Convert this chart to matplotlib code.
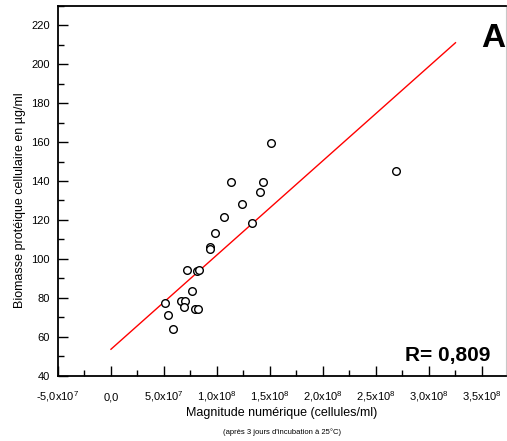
import matplotlib.pyplot as plt
from matplotlib.ticker import MultipleLocator

plt.rcParams['font.family'] = ['Liberation Sans', 'DejaVu Sans']
plt.rcParams['mathtext.default'] = 'regular'

# cell counts (cells/ml) and protein biomass (ug/ml)
cells = [5.15e7, 5.36e7, 5.90e7, 7.20e7, 8.15e7, 8.27e7, 7.68e7, 6.66e7,
         7.01e7, 6.85e7, 7.89e7, 8.24e7, 9.36e7, 9.36e7, 9.79e7, 1.071e8,
         1.133e8, 1.238e8, 1.330e8, 1.405e8, 1.437e8, 1.513e8, 2.688e8]
biomass = [77.2, 71.2, 64.1, 94.2, 93.8, 94.3, 83.2, 78.4,
           78.4, 75.3, 74.1, 74.1, 106.2, 104.9, 113.2, 121.3,
           139.3, 128.3, 118.4, 134.3, 139.3, 159.4, 145.3]

# linear fit
fit_intercept = 53.5
fit_slope = 4.845e-7
fit_x = [0.0, 3.253e8]
r_value = '0,809'

x_ticks = [-5e7, 0, 5e7, 1e8, 1.5e8, 2e8, 2.5e8, 3e8, 3.5e8]


def sci_label(v):
    if abs(v) < 1:
        return '0,0'
    exp = len(str(int(abs(v)))) - 1
    mant = v / 10 ** exp
    return ('%.1f' % mant).replace('.', ',') + 'x10$^{%d}$' % exp


fig = plt.figure(figsize=(5.07, 4.41), dpi=100)
ax = fig.add_axes([58 / 507, 65.5 / 441, 448 / 507, 369.5 / 441])

ax.plot(cells, biomass, 'o', mfc='white', mec='black', mew=1.0, ms=5.5, zorder=3)
ax.plot(fit_x, [fit_intercept + fit_slope * x for x in fit_x], color='red', lw=1.0)

ax.set_xlim(-5e7, 3.73e8)
ax.set_ylim(40, 230)
ax.set_xticks(x_ticks)
ax.set_xticklabels([sci_label(v) for v in x_ticks], va='baseline')
ax.xaxis.set_minor_locator(MultipleLocator(2.5e7))
ax.set_yticks([40, 60, 80, 100, 120, 140, 160, 180, 200, 220])
ax.yaxis.set_minor_locator(MultipleLocator(10))

ax.tick_params(which='both', direction='in', labelsize=8, width=1.0)
ax.tick_params(which='major', length=7, pad=6)
ax.tick_params(axis='x', which='major', pad=18)
ax.tick_params(which='minor', length=4)
ax.tick_params(axis='both', top=False, right=False)

for side in ['left', 'bottom', 'top']:
    ax.spines[side].set_linewidth(1.3)
ax.spines['right'].set_color('#c8c8c8')
ax.spines['right'].set_linewidth(0.8)

ax.set_ylabel('Biomasse protéique cellulaire en µg/ml', fontsize=9)
ax.yaxis.set_label_coords(-0.071, 0.475)
ax.set_xlabel('Magnitude numérique (cellules/ml)', fontsize=9)
ax.xaxis.set_label_coords(0.5, (375.5 - 413) / 369.5)
ax.xaxis.label.set_va('center')
fig.text(282 / 507, 1 - 432 / 441, "(après 3 jours d'incubation à 25°C)",
         fontsize=5.5, ha='center', va='center')

ax.text(0.998, 0.913, 'A', transform=ax.transAxes, fontsize=24,
        fontweight='bold', ha='right', va='center')
ax.text(0.965, 0.055, 'R= ' + r_value, transform=ax.transAxes, fontsize=15,
        fontweight='bold', ha='right', va='center')

fig.savefig('out.png', dpi=100)
